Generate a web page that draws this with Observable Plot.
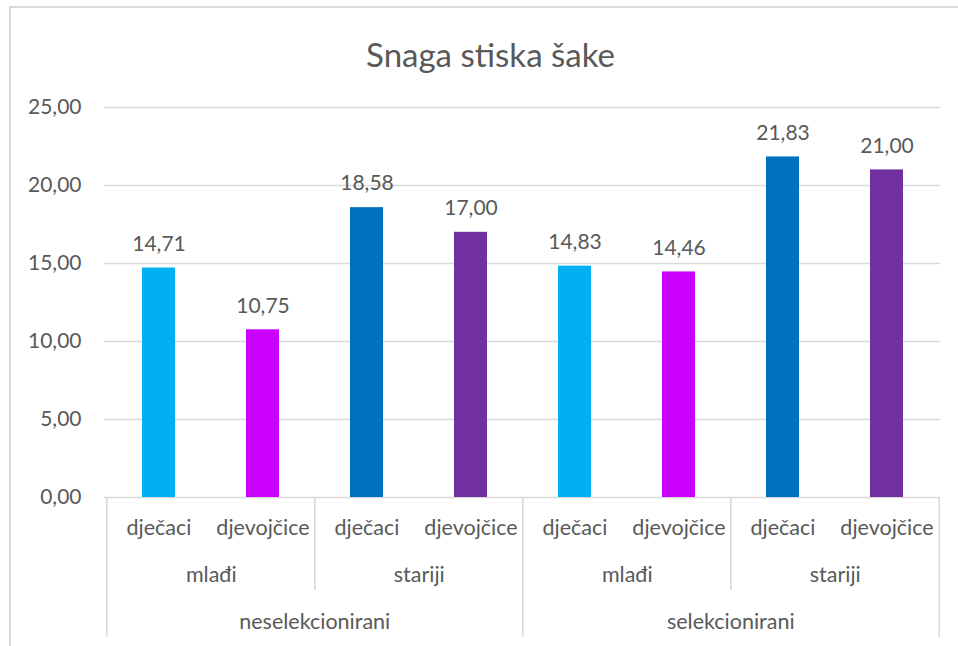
<!DOCTYPE html>
<html>
<head>
<meta charset="utf-8">
<script src="https://cdn.jsdelivr.net/npm/d3@7"></script>
<script src="https://cdn.jsdelivr.net/npm/@observablehq/plot@0.6"></script>
<style>
  html, body { margin: 0; padding: 0; background: #fff; }
  #wrap { position: relative; width: 958px; height: 646px; overflow: hidden; }
  #frame { position: absolute; left: 9px; top: 6px; width: 2000px; height: 2000px;
           border-left: 2px solid #D9D9D9; border-top: 2px solid #D9D9D9; pointer-events: none; }
  #chart { position: absolute; left: 0; top: 0; }
  #chart svg { font-family: Lato, "Open Sans", sans-serif; }
</style>
</head>
<body>
<div id="wrap"><div id="chart"></div><div id="frame"></div></div>
<script>
const title = "Snaga stiska šake";
const selections = ["neselekcionirani", "selekcionirani"];
const ages = ["mlađi", "stariji"];
const genders = ["dječaci", "djevojčice"];
const values = [14.71, 10.75, 18.58, 17.00, 14.83, 14.46, 21.83, 21.00];
const yTicks = [0, 5, 10, 15, 20, 25];
const barColors = {
  "mlađi|dječaci": "#00B0F0",
  "mlađi|djevojčice": "#CC00FF",
  "stariji|dječaci": "#0070C0",
  "stariji|djevojčice": "#7030A0"
};

const rows = [];
let k = 0;
for (const s of selections) for (const a of ages) for (const g of genders) {
  rows.push({key: `${s}|${a}|${g}`, sel: s, age: a, gender: g, value: values[k++], color: barColors[`${a}|${g}`]});
}
const ageGroups = [];
for (const s of selections) for (const a of ages) ageGroups.push({key: `${s}|${a}|${genders[0]}`, label: a});
const selGroups = selections.map(s => ({key: `${s}|${ages[1]}|${genders[0]}`, label: s}));
const longLeft = selections.map(s => ({key: `${s}|${ages[0]}|${genders[0]}`}));
const shortLeft = selections.map(s => ({key: `${s}|${ages[1]}|${genders[0]}`}));
const lastKey = [{key: rows[rows.length - 1].key}];

const W = 958, H = 646;
const mL = 104, mR = 18, mT = 107, mB = 149;
const step = (W - mL - mR) / rows.length;
const frameH = H - mT - mB;
const pad = 1 - 33 / step;
const fmt = v => v.toFixed(2).replace(".", ",");
const txt = "#595959";
const line = "#D9D9D9";

const chart = Plot.plot({
  width: W, height: H,
  marginLeft: mL, marginRight: mR, marginTop: mT, marginBottom: mB,
  style: {fontFamily: "Lato, 'Open Sans', sans-serif", color: txt, background: "transparent"},
  x: {type: "band", domain: rows.map(d => d.key), paddingInner: pad, paddingOuter: pad / 2, axis: null},
  y: {domain: [0, 25], axis: null},
  marks: [
    Plot.gridY(yTicks, {stroke: line, strokeOpacity: 1, strokeWidth: 1.5}),
    Plot.axisY(yTicks, {tickSize: 0, tickPadding: 23, tickFormat: fmt, fontSize: 21, fill: txt, label: null}),
    Plot.barY(rows, {x: "key", y: "value", fill: "color"}),
    Plot.text(rows, {x: "key", y: "value", text: d => fmt(d.value), dy: -24, fontSize: 21, fill: txt}),
    Plot.text(rows, {x: "key", text: "gender", frameAnchor: "bottom", dy: 37, fontSize: 21.5, fill: txt}),
    Plot.text(ageGroups, {x: "key", text: "label", frameAnchor: "bottom", dx: step / 2, dy: 84, fontSize: 21.5, fill: txt}),
    Plot.text(selGroups, {x: "key", text: "label", frameAnchor: "bottom", dx: -step / 2, dy: 131, fontSize: 21.5, fill: txt}),
    Plot.ruleX(longLeft, {x: "key", dx: -step / 2, insetTop: frameH, insetBottom: -140, stroke: line, strokeWidth: 1.5}),
    Plot.ruleX(lastKey, {x: "key", dx: step / 2, insetTop: frameH, insetBottom: -140, stroke: line, strokeWidth: 1.5}),
    Plot.ruleX(shortLeft, {x: "key", dx: -step / 2, insetTop: frameH, insetBottom: -93, stroke: line, strokeWidth: 1.5}),
    Plot.text([title], {frameAnchor: "top", text: d => d, dx: -32, dy: -64, fontSize: 33, fill: txt})
  ]
});
document.getElementById("chart").appendChild(chart);
</script>
</body>
</html>
